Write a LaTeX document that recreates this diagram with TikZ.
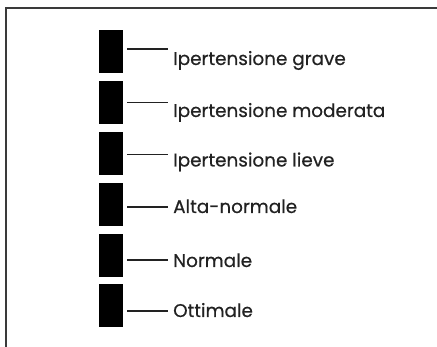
\documentclass[tikz,border=0pt]{standalone}
\usepackage{fontspec}
\setmainfont{Poppins}
\newfontfamily\lblfont{Poppins}[FakeBold=0.5]
\usetikzlibrary{positioning}

\definecolor{frameGray}{HTML}{3A3A3A}
\definecolor{textGray}{HTML}{222222}

\begin{document}
\begin{tikzpicture}[
    x=1pt, y=-1pt,
    bar/.style={fill=black, draw=none, minimum width=24pt, minimum height=43pt, inner sep=0pt},
    lbl/.style={anchor=base west, inner sep=0pt, text=textGray, font=\lblfont\fontsize{18.4}{22}\selectfont},
    tick/.style={line width=1.8pt, draw=textGray, shorten <=4pt, shorten >=5pt}
]
    \useasboundingbox (0,0) rectangle (437,347);

    % outer frame (open to the right and the bottom)
    \draw[line width=1.8pt, frameGray] (6,347) -- (6,8) -- (437,8);

    % category bars
    \node[bar] (grave)     at (111,51.5)  {};
    \node[bar] (moderata)  at (111,102.5) {};
    \node[bar] (lieve)     at (111,153.5) {};
    \node[bar] (altanorm)  at (111,204.5) {};
    \node[bar] (normale)   at (111,255.5) {};
    \node[bar] (ottimale)  at (111,306)   {};

    % labels
    \node[lbl] (lgrave)    at (173,65)    {Ipertensione grave};
    \node[lbl] (lmoderata) at (173,117)   {Ipertensione moderata};
    \node[lbl] (llieve)    at (173,166.5) {Ipertensione lieve};
    \node[lbl] (laltanorm) at (173,213)   {Alta-normale};
    \node[lbl] (lnormale)  at (173,267)   {Normale};
    \node[lbl] (lottimale) at (173,317)   {Ottimale};

    % leader lines
    \draw[tick] ([yshift=2.5pt]grave.east)    -- ([yshift=2.5pt]grave.east -| lgrave.west);
    \draw[tick] (moderata.east)               -- (moderata.east -| lmoderata.west);
    \draw[tick] ([yshift=-1pt]lieve.east)     -- ([yshift=-1pt]lieve.east -| llieve.west);
    \draw[tick] ([yshift=-2.5pt]altanorm.east) -- ([yshift=-2.5pt]altanorm.east -| laltanorm.west);
    \draw[tick] ([yshift=-4.5pt]normale.east) -- ([yshift=-4.5pt]normale.east -| lnormale.west);
    \draw[tick] ([yshift=-5pt]ottimale.east)  -- ([yshift=-5pt]ottimale.east -| lottimale.west);
\end{tikzpicture}
\end{document}
